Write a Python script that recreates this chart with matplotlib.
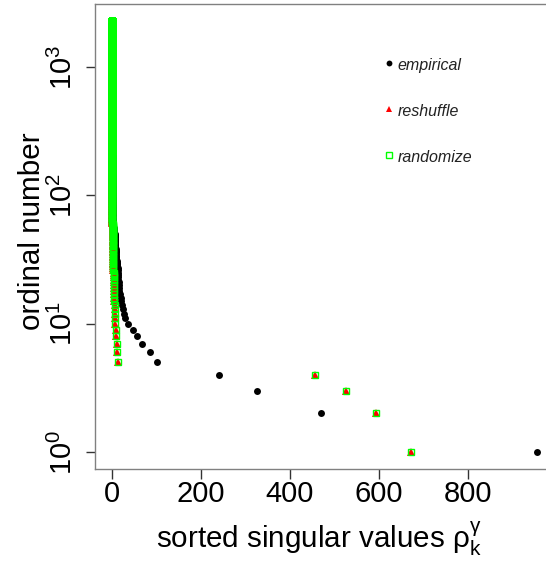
import numpy as np
import matplotlib
matplotlib.use("Agg")
import matplotlib.pyplot as plt
from matplotlib.ticker import NullLocator, FixedLocator

plt.rcParams['font.family'] = ['Liberation Sans', 'DejaVu Sans']
plt.rcParams['mathtext.fontset'] = 'custom'
plt.rcParams['mathtext.rm'] = 'Liberation Sans'
plt.rcParams['mathtext.it'] = 'Liberation Sans:italic'
plt.rcParams['mathtext.bf'] = 'Liberation Sans:bold'

# ---------------- data ----------------
# empirical: distinct leading values (ordinals 1..33)
empirical_head = [955, 470, 326, 242, 101.5, 86, 68.5, 57, 47, 37,
                  30.5, 27.5, 26, 24, 22, 20, 18.5, 17, 16.5, 16,
                  15.6, 15.2, 14.8, 14.5, 14.2, 13.9, 13.3, 12.8, 12.2, 11.6,
                  11, 10.5, 10]
# empirical: dense tail given as (value, number of ordinals)
empirical_tail_values = [9, 8, 7, 6, 3.5, 2.5, 2, 1.5, 1.2, 0.8]
empirical_tail_counts = [5, 6, 6, 6, 14, 30, 100, 300, 500, 1300]

# reshuffle
reshuffle_head = [673, 593, 527, 456, 15, 11.5, 11, 9.7, 9, 8.1,
                  7.4, 7, 6.7, 6.4, 6.1]
reshuffle_tail_values = [5.0, 4.0, 3.0, 1.3]
reshuffle_tail_counts = [10, 15, 20, 2240]

# randomize
randomize_head = [673, 593, 527, 456, 15, 11.5, 11, 9.7, 9, 8.1,
                  7.4, 7, 6.7, 6.4, 6.1]
randomize_tail_values = [5.0, 4.0, 3.0, 1.5]
randomize_tail_counts = [10, 15, 20, 2240]

x_ticks = [0, 200, 400, 600, 800]
y_ticks = [1, 10, 100, 1000]
y_tick_labels = [r'$\mathregular{10^{0}}$', r'$\mathregular{10^{1}}$',
                 r'$\mathregular{10^{2}}$', r'$\mathregular{10^{3}}$']
legend_labels = ['empirical', 'reshuffle', 'randomize']


def series(head, tail_values, tail_counts):
    vals = np.concatenate([np.array(head, float),
                           np.repeat(tail_values, tail_counts)])
    ordinal = np.arange(1, len(vals) + 1)
    return vals, ordinal


emp_x, emp_y = series(empirical_head, empirical_tail_values, empirical_tail_counts)
res_x, res_y = series(reshuffle_head, reshuffle_tail_values, reshuffle_tail_counts)
ran_x, ran_y = series(randomize_head, randomize_tail_values, randomize_tail_counts)

# ---------------- figure ----------------
W, H = 546, 565
fig = plt.figure(figsize=(W / 100, H / 100), dpi=100)
L, R, T, B = 95, 553.6, 4, 469.2
ax = fig.add_axes([L / W, 1 - B / H, (R - L) / W, (B - T) / H])

ax.plot(emp_x, emp_y, 'o', ms=5.0, color='black', mew=0)
ax.plot(res_x, res_y, '^', ms=5.8, color='#FF0000', mew=0)
ax.plot(ran_x, ran_y, 's', ms=5.0, mfc='none', mec='#00FF00', mew=1.0)

ax.set_yscale('log')
ax.set_xlim(-37.5, 993)
ax.set_ylim(10 ** -0.134, 10 ** 3.492)

ax.xaxis.set_major_locator(FixedLocator(x_ticks))
ax.set_xticklabels([str(v) for v in x_ticks])
ax.yaxis.set_major_locator(FixedLocator(y_ticks))
ax.yaxis.set_minor_locator(NullLocator())
ax.set_yticklabels(y_tick_labels)

for s in ax.spines.values():
    s.set_color('#808080')
    s.set_linewidth(1.0)

ax.tick_params(axis='x', direction='out', length=7.2, width=1.0,
               color='#333333', labelsize=21, pad=0.5)
ax.tick_params(axis='y', direction='out', length=6.5, width=1.0,
               color='#333333', labelsize=21, pad=6, labelrotation=90)
for lab in ax.get_yticklabels():
    lab.set_va('center')

# axis titles
fig.text(155.5 / W, 1 - 548.3 / H,
         r'sorted singular values $\mathregular{\rho_k^{\gamma}}$',
         fontsize=21.3, ha='left', va='baseline')
fig.text(40 / W, 1 - 231.5 / H, 'ordinal number', fontsize=21.3,
         rotation=90, rotation_mode='anchor', ha='center', va='baseline')

# legend (no box)
mk_x = (389.3 - L) / (R - L)
tx_x = (397.5 - L) / (R - L)
leg_marker_y = [63.3, 109.3, 155]
styles = [dict(marker='o', ms=4.2, color='black', mew=0),
          dict(marker='^', ms=4.6, color='#FF0000', mew=0),
          dict(marker='s', ms=3.9, mfc='none', mec='#00FF00', mew=1.0)]
for lbl, my, st in zip(legend_labels, leg_marker_y, styles):
    ya = 1 - (my - T) / (B - T)
    yb = 1 - (my + 6.7 - T) / (B - T)
    ax.plot([mk_x], [ya], linestyle='none', transform=ax.transAxes,
            clip_on=False, **st)
    ax.text(tx_x, yb, lbl, transform=ax.transAxes, fontsize=11.5,
            fontstyle='italic', color='#222222', ha='left', va='baseline')

fig.savefig('out.png', dpi=100)
